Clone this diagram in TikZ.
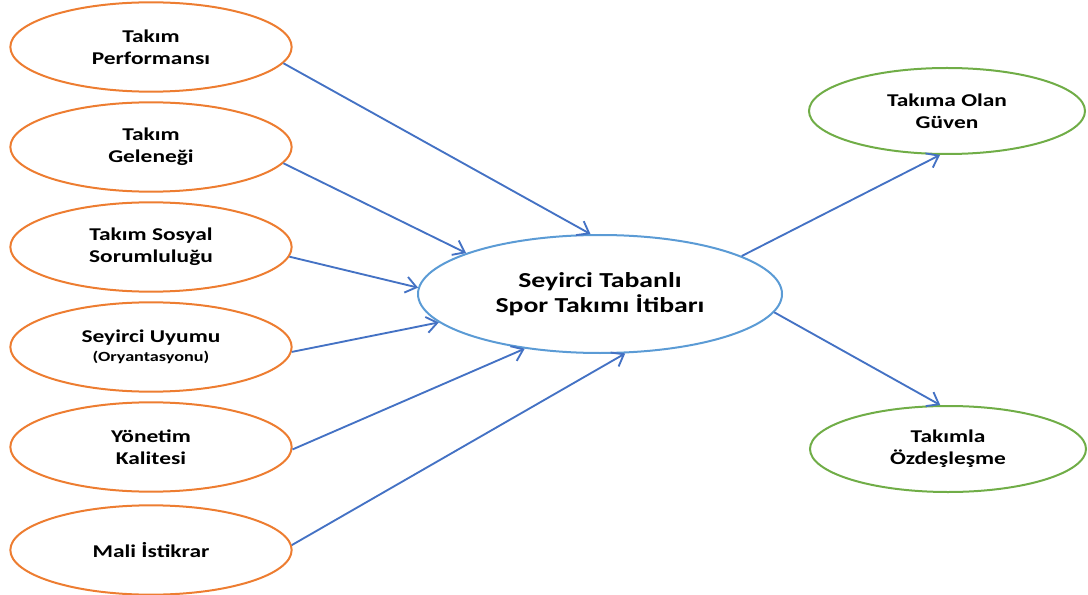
\documentclass[tikz,border=0pt]{standalone}
\usepackage{fontspec}
\setmainfont{Carlito}[FakeStretch=1.3]
\usetikzlibrary{shapes.geometric,arrows.meta}
\definecolor{turuncu}{HTML}{ED7D31}
\definecolor{mavi}{HTML}{4472C4}
\definecolor{acikmavi}{HTML}{5B9BD5}
\definecolor{yesil}{HTML}{70AD47}

\begin{document}
\begin{tikzpicture}[x=.75pt,y=-.75pt,
	faktor/.style={ellipse,draw=turuncu,line width=1.5pt,minimum width=211pt,minimum height=67pt,inner sep=0pt,align=center,font=\fontsize{13.5}{16.5}\selectfont\bfseries},
	sonuc/.style={faktor,draw=yesil,minimum width=207pt,minimum height=64.5pt},
	itibar/.style={faktor,draw=acikmavi,minimum width=273pt,minimum height=88.5pt,font=\fontsize{16}{19}\selectfont\bfseries},
	ok/.style={mavi,line width=1.4pt,-{Straight Barb[length=8pt,width=12pt]}}]
	\useasboundingbox (0,0) rectangle (1088,595);
	% sol taraf: itibar faktorleri
	\node[faktor] (perf) at (151,47) {Takım\\Performansı};
	\node[faktor] (gelenek) at (151,147) {Takım\\Geleneği};
	\node[faktor] (sosyal) at (151,247) {Takım Sosyal\\Sorumluluğu};
	\node[faktor] (uyum) at (151,347) {Seyirci Uyumu\\[-2pt]{\fontsize{10.5}{11}\selectfont(Oryantasyonu)}};
	\node[faktor] (yonetim) at (151,447) {Yönetim\\Kalitesi};
	\node[faktor] (mali) at (151,550) {Mali İstikrar};
	
	\node[itibar] (itibar) at (600,294) {Seyirci Tabanlı\\Spor Takımı İtibarı};
	
	% sag taraf: sonuclar
	\node[sonuc] (guven) at (947,111) {Takıma Olan\\Güven};
	\node[sonuc] (ozdes) at (948,449) {Takımla\\Özdeşleşme};
	
	\foreach \a/\b/\c in {perf/-7/99,gelenek/-7/163,sosyal/-4/178,uyum/-2/190,yonetim/-1/216,mali/2/-67}{
		\draw[ok] (\a.\b) -- (itibar.\c);}
	\draw[ok] (itibar.15) -- (guven.-99);
	\draw[ok] (itibar.-6) -- (ozdes.100);
\end{tikzpicture}
\end{document}
